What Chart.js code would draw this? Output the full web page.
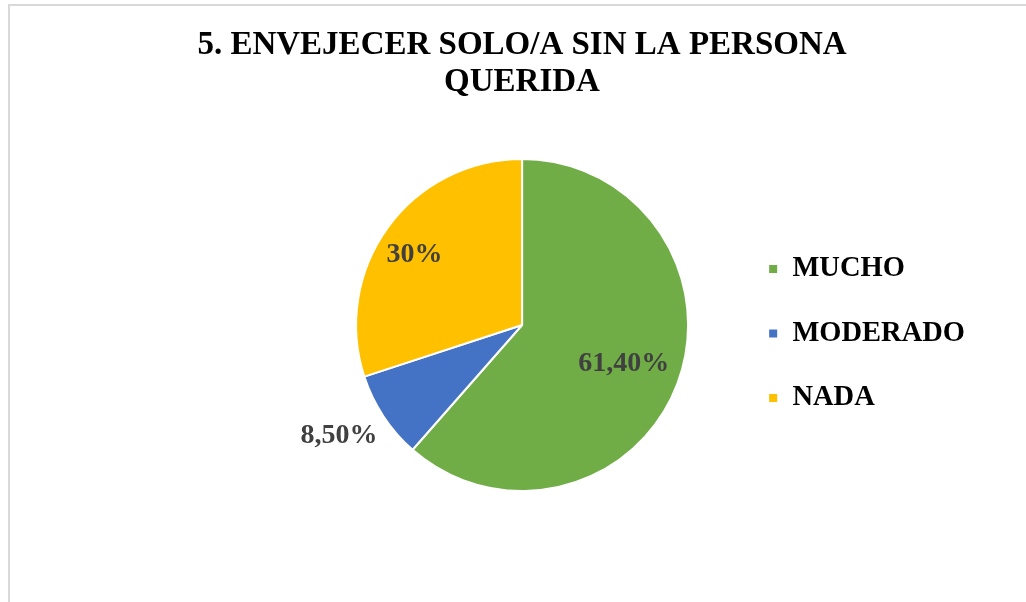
<!DOCTYPE html>
<html>
<head>
<meta charset="utf-8">
<script src="https://cdn.jsdelivr.net/npm/chart.js@4/dist/chart.umd.min.js"></script>
<style>
  html, body { margin: 0; padding: 0; background: #fff; }
  #wrap { width: 1026px; height: 602px; }
</style>
</head>
<body>
<div id="wrap"><canvas id="myChart" width="1026" height="602"></canvas></div>
<script>
var titleLines = ['5. ENVEJECER SOLO/A SIN LA PERSONA', 'QUERIDA'];
var categories = ['MUCHO', 'MODERADO', 'NADA'];
var values = [61.4, 8.5, 30];
var valueLabels = ['61,40%', '8,50%', '30%'];
var colors = ['#70AD47', '#4472C4', '#FFC000'];

var serif = '"Liberation Serif", "Times New Roman", serif';

// fondo blanco y borde gris del marco
var frame = {
    id: 'frame',
    beforeDraw: function(chart) {
        var c = chart.ctx;
        c.save();
        c.fillStyle = '#ffffff';
        c.fillRect(0, 0, chart.width, chart.height);
        c.fillStyle = '#d9d9d9';
        c.fillRect(8, 4, chart.width - 8, 2);
        c.fillRect(8, 4, 2, chart.height - 4);
        c.restore();
    }
};

// titulo centrado sobre todo el lienzo
var bigTitle = {
    id: 'bigTitle',
    afterDraw: function(chart) {
        var c = chart.ctx;
        c.save();
        c.font = 'bold 33px ' + serif;
        c.fillStyle = '#000';
        c.textAlign = 'center';
        c.textBaseline = 'middle';
        titleLines.forEach(function(t, i) {
            c.fillText(t, 522, 45 + i * 37);
        });
        c.restore();
    }
};

// etiquetas de porcentaje (distancia relativa al radio y giro en grados)
var labelDist = [0.655, 1.29, 0.775];
var labelTurn = [0, 2.2, -2.6];
var sliceLabels = {
    id: 'sliceLabels',
    afterDatasetsDraw: function(chart) {
        var c = chart.ctx;
        var meta = chart.getDatasetMeta(0);
        c.save();
        c.font = 'bold 28px ' + serif;
        c.fillStyle = '#404040';
        c.textAlign = 'center';
        c.textBaseline = 'middle';
        meta.data.forEach(function(arc, i) {
            var p = arc.getProps(['x', 'y', 'startAngle', 'endAngle', 'outerRadius'], true);
            var mid = (p.startAngle + p.endAngle) / 2 + labelTurn[i] * Math.PI / 180;
            var r = p.outerRadius * labelDist[i];
            c.fillText(valueLabels[i], p.x + Math.cos(mid) * r, p.y + Math.sin(mid) * r);
        });
        c.restore();
    }
};

var ctx = document.getElementById('myChart');
var mychart = new Chart(ctx, {
    type: 'pie',
    data: {
        labels: categories,
        datasets: [{
            data: values,
            backgroundColor: colors,
            borderColor: '#ffffff',
            borderWidth: 2
        }]
    },
    options: {
        responsive: false,
        animation: false,
        events: [],
        layout: {
            padding: { top: 158, bottom: 110, left: 312, right: 51 }
        },
        plugins: {
            tooltip: { enabled: false },
            legend: {
                position: 'right',
                title: {
                    display: true,
                    text: '',
                    padding: { top: 16, bottom: 0 },
                    font: { size: 1, lineHeight: 1 }
                },
                labels: {
                    usePointStyle: true,
                    pointStyle: 'rect',
                    boxWidth: 10,
                    boxHeight: 10,
                    padding: 36,
                    color: '#000',
                    font: { family: serif, size: 28.5, weight: 'bold' }
                }
            }
        }
    },
    plugins: [frame, bigTitle, sliceLabels]
});
</script>
</body>
</html>
